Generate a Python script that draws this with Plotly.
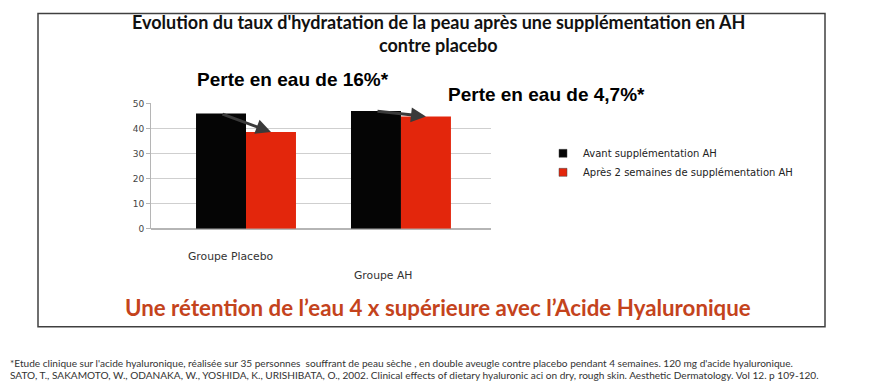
import plotly.graph_objects as go

# ---- data ----
groups = ["Groupe Placebo", "Groupe AH"]
avant = [46.0, 47.0]
apres = [38.6, 44.8]
series_names = ["Avant supplémentation AH", "Après 2 semaines de supplémentation AH"]
series_colors = ["#050505", "#e3260c"]
y_ticks = [0, 10, 20, 30, 40, 50]
perte_labels = ["Perte en eau de 16%*", "Perte en eau de 4,7%*"]
title_lines = ["Evolution du taux d'hydratation de la peau après une supplémentation en AH", "contre placebo"]
conclusion = "Une rétention de l’eau 4 x supérieure avec l’Acide Hyaluronique"
footnotes = [
    "*Etude clinique sur l'acide hyaluronique, réalisée sur 35 personnes  souffrant de peau sèche , en double aveugle contre placebo pendant 4 semaines. 120 mg d'acide hyaluronique.",
    "SATO, T., SAKAMOTO, W., ODANAKA, W., YOSHIDA, K., URISHIBATA, O., 2002. Clinical effects of dietary hyaluronic aci on dry, rough skin. Aesthetic Dermatology. Vol 12. p 109-120.",
]

W, H = 876, 385
# screen-pixel -> paper fraction (calibrated to the page rendering)
def px(x):
    return (x - 7) / 876
def py(y):
    return (385.5 - y) / 371

xpos = list(range(len(groups)))
bargap = 0.355
bw = (1 - bargap) / 2

fig = go.Figure()
for vals, name, col in [(avant, series_names[0], series_colors[0]), (apres, series_names[1], series_colors[1])]:
    fig.add_trace(go.Bar(x=xpos, y=vals, name=name, showlegend=False,
                         marker=dict(color=col, line=dict(width=0))))
# legend entries with small square keys
for name, col in zip(series_names, series_colors):
    fig.add_trace(go.Scatter(x=[None], y=[None], mode="markers", name=name,
                             marker=dict(symbol="square", size=8, color=col,
                                         line=dict(color="#444", width=0.5))))

annotations = []
# title
for j, t in enumerate(title_lines):
    annotations.append(dict(text="<b>" + t + "</b>", x=px(437), y=py(23 + 23 * j), xref="paper", yref="paper",
                            xanchor="center", yanchor="middle", showarrow=False,
                            font=dict(family="Lato", size=18, color="#111")))
# perte labels
for t, xs, ys in zip(perte_labels, [292, 545], [80, 95]):
    annotations.append(dict(text="<b>" + t + "</b>", x=px(xs), y=py(ys), xref="paper", yref="paper",
                            xanchor="center", yanchor="middle", showarrow=False,
                            font=dict(family="Liberation Sans", size=19, color="#000")))
# arrows between bar tops
for i in xpos:
    annotations.append(dict(x=i + bw / 2, y=apres[i], ax=i - bw / 2, ay=avant[i],
                            xref="x", yref="y", axref="x", ayref="y",
                            showarrow=True, arrowhead=2, arrowsize=1, arrowwidth=3,
                            arrowcolor="#3a3a3a", text=""))
# category labels (perspective-like placement)
cat_x = [230, 382]
cat_y = [255, 274]
for i, g in enumerate(groups):
    annotations.append(dict(text=g, x=px(cat_x[i]), y=py(cat_y[i]), xref="paper", yref="paper",
                            xanchor="center", yanchor="middle", showarrow=False,
                            font=dict(family="DejaVu Sans", size=10.8, color="#333")))
# conclusion
annotations.append(dict(text="<b>" + conclusion + "</b>", x=px(437), y=py(306), xref="paper", yref="paper",
                        xanchor="center", yanchor="middle", showarrow=False,
                        font=dict(family="Lato", size=22.3, color="#c4431c")))
# footnotes
for j, t in enumerate(footnotes):
    annotations.append(dict(text=t, x=px(7.5), y=py(361 + 12 * j), xref="paper", yref="paper",
                            xanchor="left", yanchor="middle", showarrow=False, borderpad=0,
                            font=dict(family="Lato", size=10.1, color="#333")))

fig.update_layout(
    width=W, height=H, autosize=False,
    margin=dict(l=0, r=0, t=0, b=0),
    paper_bgcolor="white", plot_bgcolor="white",
    barmode="group", bargap=bargap, bargroupgap=0,
    showlegend=True,
    legend=dict(x=px(542), y=py(139), xanchor="left", yanchor="top",
                font=dict(family="DejaVu Sans", size=10, color="#222"),
                bgcolor="rgba(0,0,0,0)"),
    xaxis=dict(domain=[px(150), px(490)], range=[-0.613, 1.581], showticklabels=False,
               showgrid=False, zeroline=False, showline=False, tickvals=xpos),
    yaxis=dict(domain=[py(228), py(104)], range=[0, 50], tickvals=y_ticks,
               showgrid=True, gridcolor="#cfcfcf", gridwidth=1,
               showline=True, linecolor="#b5b5b5", zeroline=True, zerolinecolor="#b5b5b5",
               ticks="outside", ticklen=4, tickcolor="#b5b5b5",
               tickfont=dict(family="DejaVu Sans", size=9, color="#444")),
    annotations=annotations,
    shapes=[dict(type="rect", xref="paper", yref="paper", x0=px(37), x1=px(824), y0=py(325), y1=0.999,
                 line=dict(color="#404040", width=1.5), fillcolor="rgba(0,0,0,0)", layer="below")],
)

fig.write_html("out.html")
